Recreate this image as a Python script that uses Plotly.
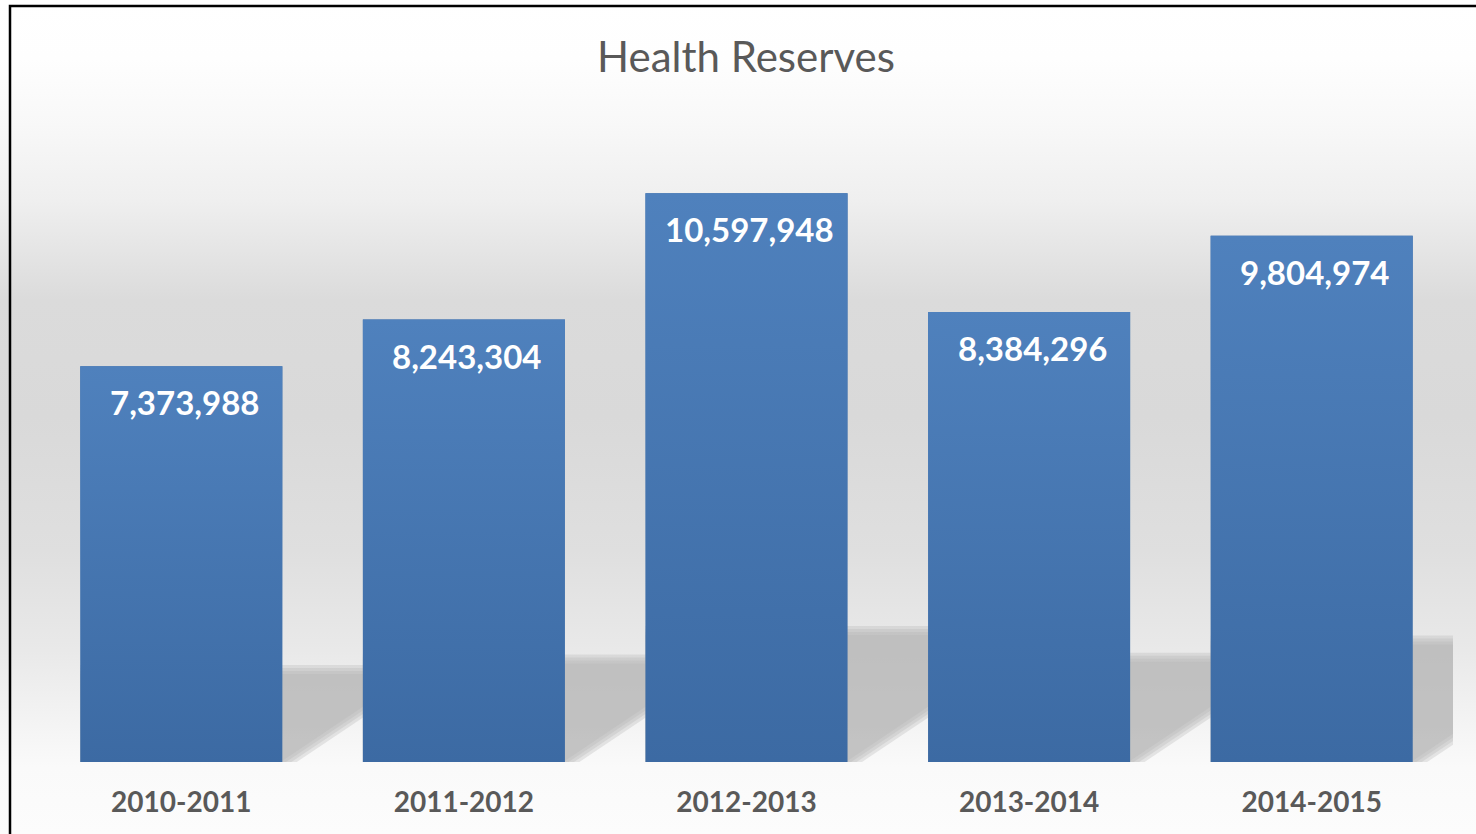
import plotly.graph_objects as go

categories = ["2010-2011", "2011-2012", "2012-2013", "2013-2014", "2014-2015"]
values = [7373988, 8243304, 10597948, 8384296, 9804974]
title_text = "Health Reserves"

W, H = 1476, 834
PL, PR = 40, 1453          # plot area x (px)
PT, PB = 118, 762          # plot area y (px)
YMAX = 12_000_000
XR = [-0.5, len(categories) - 0.5]
BAR_W = 0.715

ypp = YMAX / (PB - PT)                 # data units per px (y)
xpp = (XR[1] - XR[0]) / (PR - PL)      # data units per px (x)

FONT = "Lato"
GREY = "#595959"

fig = go.Figure()

# ---- background gradient on full paper (xy) ----
bg_scale = [
    [0.00, "#fcfcfc"],
    [0.08, "#fafafa"],
    [0.22, "#e9e9e9"],
    [0.34, "#dfdfdf"],
    [0.50, "#d9d9d9"],
    [0.64, "#dbdbdb"],
    [0.76, "#efefef"],
    [0.85, "#f8f8f8"],
    [0.93, "#fefefe"],
    [1.00, "#ffffff"],
]
fig.add_trace(go.Scatter(
    x=[0, 1, 1, 0, 0], y=[0, 0, 1, 1, 0], mode="lines", fill="toself",
    line=dict(width=0), fillgradient=dict(type="vertical", colorscale=bg_scale),
    hoverinfo="skip", showlegend=False, xaxis="x", yaxis="y"))

# ---- shadows (x2y2), derived from bar values ----
D = 200  # px
layers = [8, 5, 2, -1]
for i, v in enumerate(values):
    h_px = v / ypp
    top_px = 0.225 * h_px
    xl = i - BAR_W / 2
    xr = i + BAR_W / 2
    for e in layers:
        xs = [xl, xr + 1.8 * e * xpp, xr + D * xpp, xr + D * xpp, xl, xl]
        ys = [0, 0, (0.67 * D - 1.2 * e) * ypp, (top_px + e) * ypp, (top_px + e) * ypp, 0]
        fig.add_trace(go.Scatter(
            x=xs, y=ys, mode="lines", fill="toself", line=dict(width=0),
            fillcolor="rgba(180,180,180,0.30)", hoverinfo="skip",
            showlegend=False, xaxis="x2", yaxis="y2"))

# ---- bars (x3y3) ----
fig.add_trace(go.Bar(
    x=list(range(len(categories))), y=values, width=BAR_W,
    marker=dict(color="#3c6aa3", line=dict(width=0)),
    hoverinfo="skip", showlegend=False, xaxis="x3", yaxis="y3"))

# bar gradient overlays
for i, v in enumerate(values):
    xl = i - BAR_W / 2
    xr = i + BAR_W / 2
    fig.add_trace(go.Scatter(
        x=[xl, xr, xr, xl, xl], y=[0, 0, v, v, 0], mode="lines", fill="toself",
        line=dict(width=0),
        fillgradient=dict(type="vertical",
                          colorscale=[[0, "rgba(79,129,189,0)"], [1, "rgba(79,129,189,1)"]]),
        hoverinfo="skip", showlegend=False, xaxis="x3", yaxis="y3"))

# value labels
for i, v in enumerate(values):
    fig.add_annotation(
        x=i, y=v, xref="x3", yref="y3", text=f"{v:,}", showarrow=False,
        yshift=-36, xshift=3, yanchor="middle",
        font=dict(family=FONT, size=33, color="white", weight="bold"))

xd = [PL / W, PR / W]
yd = [1 - PB / H, 1 - PT / H]
hidden = dict(visible=False, showgrid=False, zeroline=False, fixedrange=True)

fig.update_layout(
    width=W, height=H,
    margin=dict(l=0, r=0, t=0, b=0),
    paper_bgcolor="white", plot_bgcolor="rgba(0,0,0,0)",
    title=dict(text=title_text, x=746 / W, y=1 - 57 / H, xanchor="center", yanchor="middle",
               font=dict(family=FONT, size=42, color=GREY)),
    xaxis=dict(domain=[0, 1], range=[0, 1], anchor="y", **hidden),
    yaxis=dict(domain=[0, 1], range=[0, 1], anchor="x", **hidden),
    xaxis2=dict(domain=xd, range=XR, anchor="y2", **hidden),
    yaxis2=dict(domain=yd, range=[0, YMAX], anchor="x2", **hidden),
    xaxis3=dict(domain=xd, range=XR, anchor="y3", showgrid=False, zeroline=False,
                showline=False, ticks="", tickmode="array",
                tickvals=list(range(len(categories))), ticktext=categories,
                ticklabelstandoff=21, fixedrange=True,
                tickfont=dict(family=FONT, size=28, color=GREY, weight="bold")),
    yaxis3=dict(domain=yd, range=[0, YMAX], anchor="x3", **hidden),
    showlegend=False,
    shapes=[dict(type="path", xref="paper", yref="paper",
                 path=f"M {10/W} 0 L {10/W} {1-6/H} L 1 {1-6/H}",
                 line=dict(color="black", width=2.5))],
)

fig.write_html("out.html", config={"displayModeBar": False})
